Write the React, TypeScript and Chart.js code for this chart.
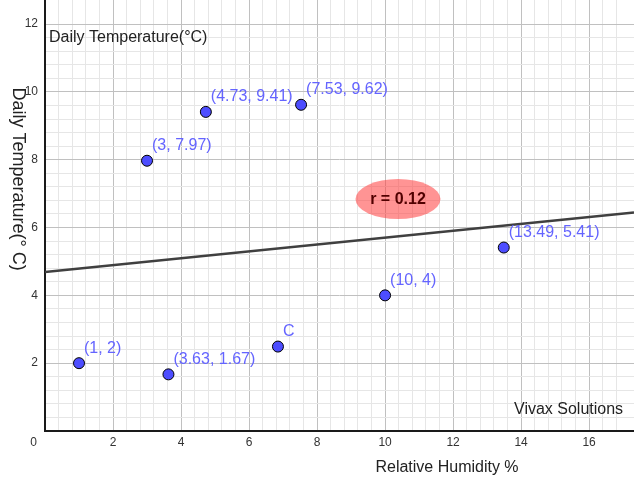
import React, { useEffect, useRef } from 'react';
import { Chart, registerables } from 'chart.js';

Chart.register(...registerables);

// ---- data ----
const humidity = [1, 3, 4.73, 7.53, 3.63, 6.85, 10, 13.49];
const temperature = [2, 7.97, 9.41, 9.62, 1.67, 2.49, 4, 5.41];
const pointLabels = ['(1, 2)', '(3, 7.97)', '(4.73, 9.41)', '(7.53, 9.62)', '(3.63, 1.67)', 'C', '(10, 4)', '(13.49, 5.41)'];
const fitX = [0, 17.32];
const fitY = [4.69, 6.44];
const xTickValues = [2, 4, 6, 8, 10, 12, 14, 16];
const yTickValues = [2, 4, 6, 8, 10, 12];
const rLabel = 'r = 0.12';
const rCenter = [10.38, 6.84];
const xTitle = 'Relative Humidity %';
const yTitle = 'Daily Temperature(° C)';
const topNote = 'Daily Temperature(°C)';
const credit = 'Vivax Solutions';

const FONT = '"Liberation Sans", Arial, Helvetica, sans-serif';

function gridColor(c: any) {
  const v = c.tick ? c.tick.value : null;
  if (v == null) return 'rgba(0,0,0,0)';
  const q = v / 0.4;
  if (Math.abs(q - Math.round(q)) > 1e-6) return 'rgba(0,0,0,0)';
  if (Math.abs(v) < 1e-9) return 'rgba(0,0,0,0)';
  const m = v / 2;
  return Math.abs(m - Math.round(m)) < 1e-6 ? '#c0c0c0' : '#e6e6e6';
}

const overlay = {
  id: 'overlay',
  beforeDatasetsDraw(chart: any) {
    const { ctx, chartArea: ca, scales } = chart;
    const x = scales.x, y = scales.y;
    const x0 = x.getPixelForValue(0);
    const y0 = y.getPixelForValue(0);
    ctx.save();
    // axes
    ctx.strokeStyle = '#1a1a1a';
    ctx.lineWidth = 2;
    ctx.beginPath();
    ctx.moveTo(x0, ca.top);
    ctx.lineTo(x0, y0);
    ctx.lineTo(ca.right, y0);
    ctx.stroke();
    // correlation ellipse
    const ex = x.getPixelForValue(rCenter[0]);
    const ey = y.getPixelForValue(rCenter[1]);
    ctx.fillStyle = 'rgba(255, 60, 60, 0.55)';
    ctx.beginPath();
    ctx.ellipse(ex, ey, 42.5, 20, 0, 0, Math.PI * 2);
    ctx.fill();
    ctx.fillStyle = '#500000';
    ctx.font = `bold 16px ${FONT}`;
    ctx.textAlign = 'center';
    ctx.textBaseline = 'middle';
    ctx.fillText(rLabel, ex, ey + 1);
    ctx.restore();
  },
  afterDatasetsDraw(chart: any) {
    const { ctx, scales } = chart;
    const x = scales.x, y = scales.y;
    const x0 = x.getPixelForValue(0);
    const y0 = y.getPixelForValue(0);
    ctx.save();
    // point labels
    ctx.font = `16px ${FONT}`;
    ctx.fillStyle = '#6464ff';
    ctx.textAlign = 'left';
    ctx.textBaseline = 'middle';
    humidity.forEach((hx, i) => {
      const px = x.getPixelForValue(hx);
      const py = y.getPixelForValue(temperature[i]);
      ctx.fillText(pointLabels[i], px + 5, py - 15);
    });
    // tick labels
    ctx.font = `12px ${FONT}`;
    ctx.fillStyle = '#333333';
    ctx.textAlign = 'center';
    ctx.textBaseline = 'middle';
    xTickValues.forEach((v) => ctx.fillText(String(v), x.getPixelForValue(v), y0 + 12));
    ctx.fillText('0', x0 - 11.5, y0 + 12);
    ctx.textAlign = 'right';
    yTickValues.forEach((v) => ctx.fillText(String(v), x0 - 7, y.getPixelForValue(v)));
    // titles and notes
    ctx.fillStyle = '#222222';
    ctx.font = `16px ${FONT}`;
    ctx.textAlign = 'left';
    ctx.fillText(topNote, x0 + 4, 38);
    ctx.fillText(credit, 514, 410);
    ctx.textAlign = 'center';
    ctx.fillText(xTitle, 447, 468);
    ctx.save();
    ctx.translate(18, 179);
    ctx.rotate(Math.PI / 2);
    ctx.font = `18px ${FONT}`;
    ctx.fillText(yTitle, 0, 0);
    ctx.restore();
    ctx.restore();
  },
};

export default function App() {
  const ref = useRef<HTMLCanvasElement | null>(null);
  useEffect(() => {
    if (!ref.current) return;
    const chart = new Chart(ref.current, {
      type: 'scatter',
      data: {
        datasets: [
          {
            type: 'scatter',
            data: humidity.map((hx, i) => ({ x: hx, y: temperature[i] })),
            backgroundColor: '#4d4dff',
            borderColor: '#000000',
            borderWidth: 1,
            pointRadius: 5.5,
            order: 0,
          } as any,
          {
            type: 'line',
            data: fitX.map((fx, i) => ({ x: fx, y: fitY[i] })),
            borderColor: '#404040',
            borderWidth: 2.5,
            pointRadius: 0,
            fill: false,
            order: 1,
          } as any,
        ],
      },
      options: {
        responsive: false,
        animation: false,
        events: [],
        layout: { autoPadding: false, padding: { left: 45, right: 0, top: 0, bottom: 65 } },
        plugins: { legend: { display: false }, tooltip: { enabled: false }, title: { display: false } },
        scales: {
          x: {
            type: 'linear',
            min: 0,
            max: 17.32,
            ticks: { display: false, stepSize: 0.4 },
            grid: { color: gridColor, lineWidth: 1, drawTicks: false },
            border: { display: false },
            afterFit: (s: any) => { s.height = 0; },
          },
          y: {
            type: 'linear',
            min: 0,
            max: 12.71,
            ticks: { display: false, stepSize: 0.4 },
            grid: { color: gridColor, lineWidth: 1, drawTicks: false },
            border: { display: false },
            afterFit: (s: any) => { s.width = 0; },
          },
        },
      } as any,
      plugins: [overlay],
    });
    return () => chart.destroy();
  }, []);
  return (
    <div style={{ position: 'absolute', left: 0, top: 0, width: 634, height: 496, background: '#fff' }}>
      <canvas ref={ref} width={634} height={496} style={{ display: 'block' }} />
    </div>
  );
}
